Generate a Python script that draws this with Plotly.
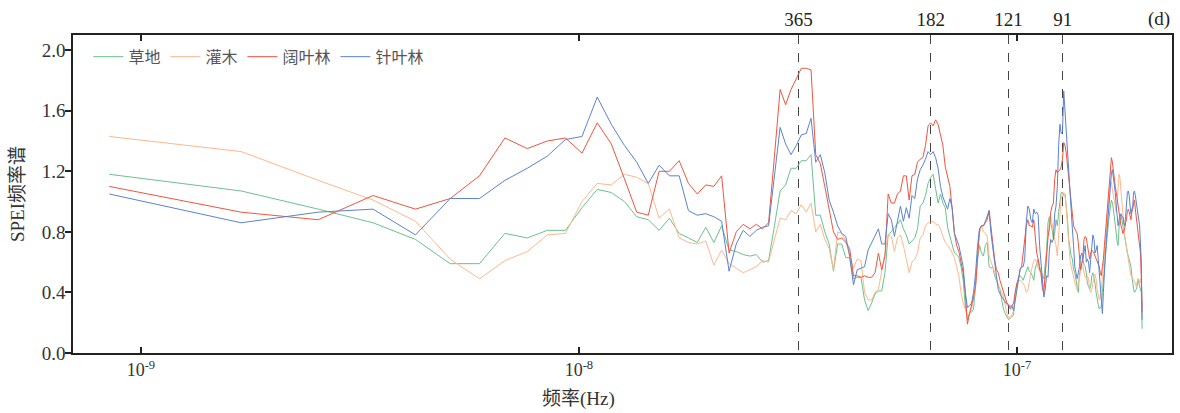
import plotly.graph_objects as go

# record length (days) -> fundamental frequency of the spectrum
RECORD_DAYS = 13665
SEC_PER_DAY = 86400
harmonics = list(range(1, 229))

grass = [
    1.18, 1.07, 0.95, 0.86, 0.75, 0.59, 0.59, 0.79, 0.76, 0.81,
    0.81, 0.96, 1.08, 1.06, 1.00, 0.90, 0.88, 0.81, 0.89, 0.79,
    0.76, 0.73, 0.83, 0.73, 0.84, 0.68, 0.67, 0.65, 0.64, 0.65,
    0.60, 0.61, 0.84, 1.07, 1.11, 1.22, 1.22, 1.27, 1.27, 1.31,
    0.91, 0.91, 0.80, 0.72, 0.54, 0.72, 0.72, 0.63, 0.63, 0.49,
    0.50, 0.50, 0.35, 0.28, 0.33, 0.39, 0.41, 0.41, 0.53, 0.78,
    0.80, 0.83, 0.85, 0.88, 0.82, 0.78, 0.72, 0.74, 0.76, 0.82,
    0.97, 0.99, 1.04, 1.12, 1.16, 1.18, 1.08, 0.99, 1.05, 0.99,
    0.96, 0.83, 0.77, 0.71, 0.66, 0.65, 0.63, 0.57, 0.48, 0.31,
    0.22, 0.26, 0.27, 0.29, 0.48, 0.62, 0.71, 0.66, 0.64, 0.71,
    0.73, 0.57, 0.56, 0.57, 0.51, 0.48, 0.44, 0.42, 0.35, 0.29,
    0.26, 0.24, 0.22, 0.23, 0.24, 0.25, 0.40, 0.46, 0.50, 0.51,
    0.50, 0.48, 0.51, 0.55, 0.57, 0.54, 0.53, 0.51, 0.48, 0.56,
    0.60, 0.62, 0.57, 0.53, 0.51, 0.49, 0.57, 0.68, 0.86, 0.90,
    0.86, 0.82, 0.75, 0.79, 0.88, 0.84, 0.93, 1.01, 1.06, 1.06,
    1.04, 1.05, 0.97, 0.88, 0.75, 0.68, 0.64, 0.62, 0.55, 0.53,
    0.49, 0.44, 0.40, 0.53, 0.55, 0.59, 0.62, 0.58, 0.57, 0.53,
    0.46, 0.44, 0.42, 0.44, 0.51, 0.53, 0.50, 0.46, 0.40, 0.35,
    0.32, 0.29, 0.30, 0.31, 0.40, 0.49, 0.57, 0.66, 0.73, 0.79,
    0.86, 0.93, 0.97, 1.01, 0.99, 0.95, 0.88, 0.84, 0.79, 0.73,
    0.71, 0.84, 0.88, 0.90, 0.88, 0.84, 0.82, 0.79, 0.74, 0.71,
    0.66, 0.64, 0.62, 0.60, 0.57, 0.51, 0.44, 0.42, 0.40, 0.41,
    0.42, 0.44, 0.49, 0.46, 0.44, 0.42, 0.40, 0.16,
]

shrub = [
    1.43, 1.33, 1.14, 1.01, 0.87, 0.62, 0.49, 0.61, 0.67, 0.78,
    0.79, 1.00, 1.12, 1.11, 1.18, 1.16, 1.12, 0.89, 0.95, 0.76,
    0.73, 0.72, 0.74, 0.58, 0.68, 0.59, 0.56, 0.53, 0.55, 0.57,
    0.61, 0.60, 0.75, 0.89, 0.88, 0.94, 0.92, 0.98, 0.93, 0.99,
    0.80, 0.85, 0.75, 0.69, 0.55, 0.80, 0.79, 0.74, 0.64, 0.56,
    0.62, 0.61, 0.40, 0.35, 0.35, 0.40, 0.42, 0.53, 0.66, 0.78,
    0.77, 0.67, 0.76, 0.78, 0.71, 0.62, 0.53, 0.60, 0.62, 0.66,
    0.76, 0.78, 0.84, 0.86, 0.86, 0.87, 0.85, 0.85, 0.82, 0.77,
    0.73, 0.71, 0.69, 0.66, 0.63, 0.57, 0.51, 0.40, 0.33, 0.29,
    0.25, 0.26, 0.29, 0.35, 0.44, 0.64, 0.79, 0.84, 0.80, 0.79,
    0.77, 0.64, 0.61, 0.57, 0.53, 0.48, 0.45, 0.42, 0.40, 0.37,
    0.31, 0.26, 0.23, 0.24, 0.25, 0.28, 0.35, 0.43, 0.48, 0.48,
    0.47, 0.46, 0.44, 0.40, 0.41, 0.48, 0.53, 0.57, 0.61, 0.62,
    0.60, 0.56, 0.55, 0.51, 0.45, 0.44, 0.51, 0.64, 0.79, 0.88,
    0.90, 0.86, 0.79, 0.75, 0.71, 0.64, 0.79, 0.97, 1.04, 1.03,
    1.06, 1.04, 0.97, 0.84, 0.71, 0.62, 0.57, 0.53, 0.51, 0.47,
    0.44, 0.42, 0.46, 0.51, 0.55, 0.58, 0.57, 0.53, 0.50, 0.49,
    0.51, 0.49, 0.42, 0.40, 0.42, 0.46, 0.51, 0.52, 0.49, 0.42,
    0.37, 0.35, 0.37, 0.42, 0.49, 0.57, 0.66, 0.77, 0.86, 0.93,
    0.99, 1.06, 1.12, 1.13, 1.08, 1.04, 1.01, 0.97, 0.93, 1.01,
    1.10, 1.18, 1.15, 1.06, 0.97, 0.88, 0.82, 0.77, 0.74, 0.71,
    0.66, 0.62, 0.57, 0.54, 0.51, 0.50, 0.49, 0.48, 0.47, 0.46,
    0.44, 0.46, 0.49, 0.48, 0.46, 0.49, 0.45, 0.30,
]

broadleaf = [
    1.10, 0.93, 0.88, 1.04, 0.95, 1.02, 1.17, 1.42, 1.35, 1.40,
    1.42, 1.32, 1.52, 1.38, 1.15, 0.93, 0.91, 1.20, 1.20, 1.27,
    1.12, 1.05, 1.11, 1.10, 1.17, 0.66, 0.80, 0.85, 0.82, 0.85,
    0.82, 0.86, 1.30, 1.74, 1.64, 1.74, 1.81, 1.88, 1.88, 1.87,
    1.31, 1.25, 1.10, 0.95, 0.80, 0.75, 0.76, 0.73, 0.69, 0.51,
    0.51, 0.50, 0.51, 0.50, 0.50, 0.53, 0.66, 0.55, 0.64, 1.05,
    0.99, 0.99, 1.05, 1.07, 1.17, 1.17, 1.01, 1.17, 1.18, 1.26,
    1.28, 1.29, 1.37, 1.50, 1.52, 1.50, 1.54, 1.51, 1.43, 1.37,
    1.23, 1.16, 1.10, 0.95, 0.79, 0.71, 0.67, 0.60, 0.53, 0.40,
    0.19, 0.26, 0.31, 0.37, 0.44, 0.64, 0.82, 0.84, 0.84, 0.86,
    0.88, 0.94, 0.82, 0.71, 0.62, 0.55, 0.53, 0.48, 0.44, 0.40,
    0.36, 0.33, 0.32, 0.29, 0.31, 0.33, 0.40, 0.46, 0.48, 0.55,
    0.57, 0.66, 0.71, 0.84, 0.88, 0.84, 0.84, 0.83, 0.88, 0.75,
    0.66, 0.62, 0.55, 0.53, 0.42, 0.40, 0.53, 0.62, 0.77, 0.82,
    0.93, 0.97, 0.99, 1.15, 1.21, 1.19, 1.20, 1.21, 1.23, 1.28,
    1.39, 1.37, 1.32, 1.23, 1.15, 1.08, 0.97, 0.89, 0.84, 0.82,
    0.80, 0.79, 0.73, 0.62, 0.55, 0.59, 0.64, 0.75, 0.77, 0.76,
    0.71, 0.66, 0.62, 0.66, 0.68, 0.67, 0.66, 0.64, 0.62, 0.60,
    0.59, 0.57, 0.53, 0.51, 0.57, 0.62, 0.71, 0.79, 0.88, 0.97,
    1.04, 1.10, 1.21, 1.29, 1.26, 1.19, 1.12, 1.10, 1.06, 1.01,
    0.97, 0.90, 0.88, 0.84, 0.82, 0.79, 0.80, 0.82, 0.86, 0.88,
    0.94, 0.95, 0.93, 0.90, 0.88, 0.93, 0.95, 0.99, 1.01, 0.95,
    0.90, 0.86, 0.84, 0.77, 0.73, 0.66, 0.50, 0.27,
]

conifer = [
    1.05, 0.86, 0.93, 0.95, 0.78, 1.02, 1.02, 1.14, 1.22, 1.30,
    1.41, 1.43, 1.69, 1.51, 1.37, 1.26, 1.12, 1.24, 1.17, 1.17,
    0.94, 0.91, 0.92, 0.90, 0.87, 0.54, 0.72, 0.81, 0.77, 0.81,
    0.83, 0.84, 1.17, 1.49, 1.38, 1.31, 1.37, 1.44, 1.45, 1.55,
    1.26, 1.31, 1.19, 1.01, 0.93, 0.84, 0.79, 0.77, 0.64, 0.45,
    0.55, 0.56, 0.57, 0.68, 0.73, 0.77, 0.82, 0.72, 0.72, 0.92,
    0.88, 0.77, 0.88, 0.97, 0.87, 0.96, 0.89, 1.04, 1.02, 1.15,
    1.21, 1.24, 1.28, 1.33, 1.31, 1.33, 1.29, 1.22, 1.10, 1.03,
    0.99, 0.95, 1.02, 0.96, 0.79, 0.75, 0.71, 0.64, 0.57, 0.40,
    0.30, 0.31, 0.33, 0.40, 0.53, 0.71, 0.82, 0.84, 0.84, 0.87,
    0.90, 0.94, 0.79, 0.71, 0.60, 0.51, 0.42, 0.39, 0.37, 0.35,
    0.34, 0.32, 0.31, 0.31, 0.31, 0.28, 0.35, 0.42, 0.51, 0.55,
    0.57, 0.57, 0.62, 0.86, 0.97, 0.95, 0.88, 0.86, 0.95, 0.92,
    0.93, 0.91, 0.71, 0.60, 0.46, 0.37, 0.42, 0.51, 0.50, 0.68,
    0.75, 0.73, 0.75, 0.92, 0.97, 1.10, 1.37, 1.51, 1.45, 1.46,
    1.73, 1.59, 1.46, 1.30, 1.15, 1.01, 0.90, 0.82, 0.71, 0.57,
    0.53, 0.49, 0.53, 0.57, 0.64, 0.66, 0.62, 0.68, 0.71, 0.60,
    0.62, 0.60, 0.53, 0.62, 0.71, 0.78, 0.75, 0.66, 0.68, 0.71,
    0.62, 0.53, 0.40, 0.33, 0.26, 0.40, 0.57, 0.66, 0.75, 0.84,
    0.97, 1.06, 1.15, 1.19, 1.21, 1.17, 1.10, 1.06, 0.97, 0.88,
    0.84, 0.88, 0.90, 0.92, 0.90, 0.90, 0.86, 0.84, 0.90, 0.99,
    1.06, 1.07, 1.04, 0.97, 0.92, 0.95, 0.97, 1.06, 1.07, 1.04,
    0.99, 0.95, 0.92, 0.88, 0.84, 0.71, 0.60, 0.22,
]

series_names = ["草地", "灌木", "阔叶林", "针叶林"]
series_colors = ["#6cc18e", "#fdb88f", "#f0553f", "#5b82d0"]
period_days = [365, 182, 121, 91]
period_labels = ["365", "182", "121", "91"]
x_tickvals = [1e-9, 1e-8, 1e-7]
x_ticktext = ["10<sup>-9</sup>", "10<sup>-8</sup>", "10<sup>-7</sup>"]
y_tickvals = [0.0, 0.4, 0.8, 1.2, 1.6, 2.0]

f0 = 1.0 / (RECORD_DAYS * SEC_PER_DAY)
freqs = [k * f0 for k in harmonics]
period_freqs = [1.0 / (d * SEC_PER_DAY) for d in period_days]

SERIF = "Liberation Serif, Times New Roman, Noto Sans CJK SC, serif"
CJK = "Liberation Serif, Noto Sans CJK SC, serif"

fig = go.Figure()
for name, vals, col in zip(series_names, [grass, shrub, broadleaf, conifer], series_colors):
    assert len(vals) == len(freqs)
    fig.add_trace(go.Scatter(x=freqs, y=vals, mode="lines", name=name,
                             line=dict(color=col, width=1)))

# invisible trace on the top axis so it renders
fig.add_trace(go.Scatter(x=[freqs[0], freqs[-1]], y=[None, None], xaxis="x2",
                         showlegend=False, hoverinfo="skip"))

xr = [-9.155, -6.646]
fig.update_layout(
    width=1180, height=413,
    margin=dict(l=73, r=6, t=35, b=60),
    paper_bgcolor="white", plot_bgcolor="white",
    font=dict(family=SERIF, size=18, color="#222"),
    showlegend=True,
    legend=dict(orientation="h", x=0.014, y=0.985, xanchor="left", yanchor="top",
                font=dict(family=CJK, size=16, color="#555"),
                bgcolor="rgba(0,0,0,0)", itemwidth=30, tracegroupgap=0),
    xaxis=dict(type="log", range=xr, tickvals=x_tickvals, ticktext=x_ticktext,
               ticks="inside", ticklen=6, tickwidth=1.5, tickcolor="#222",
               showline=True, linecolor="#222", linewidth=1.5, mirror="ticks",
               showgrid=False, zeroline=False,
               tickfont=dict(family=SERIF, size=18, color="#333")),
    xaxis2=dict(type="log", range=xr, overlaying="x", side="top", anchor="y",
                tickvals=period_freqs, ticktext=period_labels, ticks="",
                ticklabelstandoff=4,
                showline=False, showgrid=True, gridcolor="#444", gridwidth=1, griddash="dash",
                zeroline=False, tickfont=dict(family=SERIF, size=19, color="#222")),
    yaxis=dict(range=[0, 2.1], tickvals=y_tickvals, tickformat=".1f",
               ticks="outside", ticklen=6, tickwidth=1.5, tickcolor="#222",
               ticklabelstandoff=-4,
               showline=True, linecolor="#222", linewidth=1.5, mirror=True,
               showgrid=False, zeroline=False,
               tickfont=dict(family=SERIF, size=19, color="#333"),
               title=dict(text="SPEI频率谱", font=dict(family=CJK, size=19, color="#333"), standoff=12)),
)
# x-axis title sits under the 10^-8 tick (log axis -> annotation x in log10 units)
fig.add_annotation(text="频率(Hz)", xref="x", yref="paper", x=-8, y=0,
                   xanchor="center", yanchor="middle", yshift=-46, showarrow=False,
                   font=dict(family=CJK, size=19, color="#333"))
fig.add_annotation(text="(d)", xref="paper", yref="paper", x=1.0, y=1.0,
                   xanchor="right", yanchor="bottom", yshift=3, showarrow=False,
                   font=dict(family=SERIF, size=19, color="#222"))
fig.write_html("out.html")
